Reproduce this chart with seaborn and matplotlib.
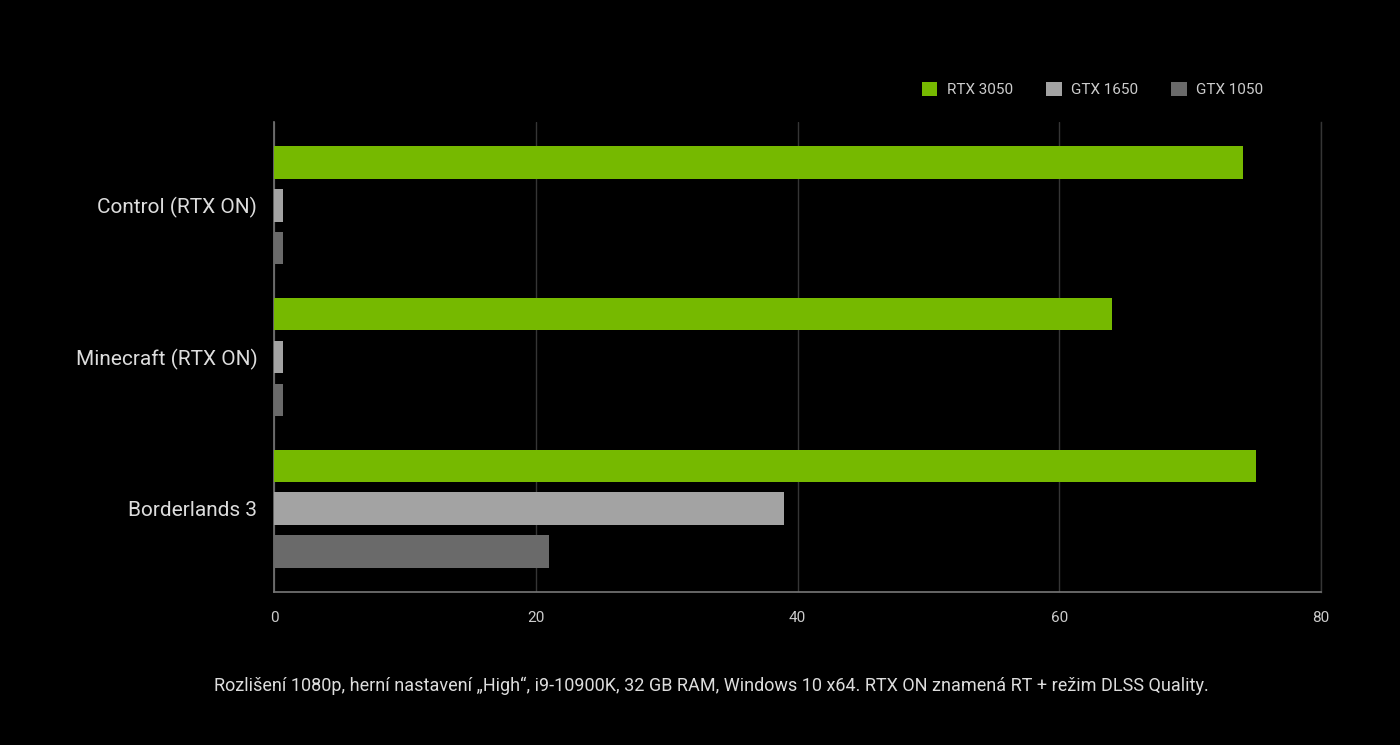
import matplotlib
matplotlib.use("Agg")
import matplotlib.pyplot as plt
import pandas as pd
import seaborn as sns

games = ["Control (RTX ON)", "Minecraft (RTX ON)", "Borderlands 3"]
gpus = ["RTX 3050", "GTX 1650", "GTX 1050"]
rtx_3050 = [74, 64, 75]
gtx_1650 = [0.7, 0.7, 39]
gtx_1050 = [0.7, 0.7, 21]
x_ticks = [0, 20, 40, 60, 80]
note = "Rozlišení 1080p, herní nastavení „High“, i9-10900K, 32 GB RAM, Windows 10 x64. RTX ON znamená RT + režim DLSS Quality."

colors = ["#76b900", "#a3a3a3", "#6a6a6a"]

df = pd.DataFrame({
    "game": games * 3,
    "gpu": [g for g in gpus for _ in games],
    "fps": rtx_3050 + gtx_1650 + gtx_1050,
})

sns.set_style("dark")
plt.rcParams["font.family"] = ["Roboto", "DejaVu Sans"]

fig = plt.figure(figsize=(14, 7.45), dpi=100, facecolor="black")
ax = fig.add_axes([0.1957, 0.2054, 0.7479, 0.6308])
ax.set_facecolor("black")

sns.barplot(data=df, x="fps", y="game", hue="gpu", order=games, hue_order=gpus,
            palette=colors, orient="h", width=0.85, gap=0.25, saturation=1,
            errorbar=None, linewidth=0, ax=ax, zorder=3)

ax.set_xlim(0, 80)
ax.set_ylim(2.55, -0.55)
ax.set_xticks(x_ticks)
ax.set_xlabel("")
ax.set_ylabel("")
ax.grid(axis="x", color="#353535", linewidth=1, zorder=0)
ax.grid(axis="y", visible=False)
ax.spines["top"].set_visible(False)
ax.spines["right"].set_visible(True)
ax.spines["right"].set_color("#353535")
ax.spines["right"].set_linewidth(1)
for side in ["left", "bottom"]:
    ax.spines[side].set_visible(True)
    ax.spines[side].set_color("#777777")
    ax.spines[side].set_linewidth(1.2)
ax.tick_params(axis="x", colors="#cccccc", labelsize=11, length=0, pad=14)
ax.tick_params(axis="y", colors="#dddddd", labelsize=15, length=0, pad=12)

leg = ax.legend(loc="center right", bbox_to_anchor=(0.912, 0.880), bbox_transform=fig.transFigure,
                ncol=3, frameon=False, fontsize=11, labelcolor="#cccccc",
                handlelength=1.0, handleheight=1.0, handletextpad=0.6, columnspacing=2.2)
for h in leg.legend_handles:
    h.set_linewidth(0)

fig.text(0.508, 0.079, note, ha="center", va="center", color="#dddddd", fontsize=13)

fig.savefig("out.png", dpi=100, facecolor="black")
